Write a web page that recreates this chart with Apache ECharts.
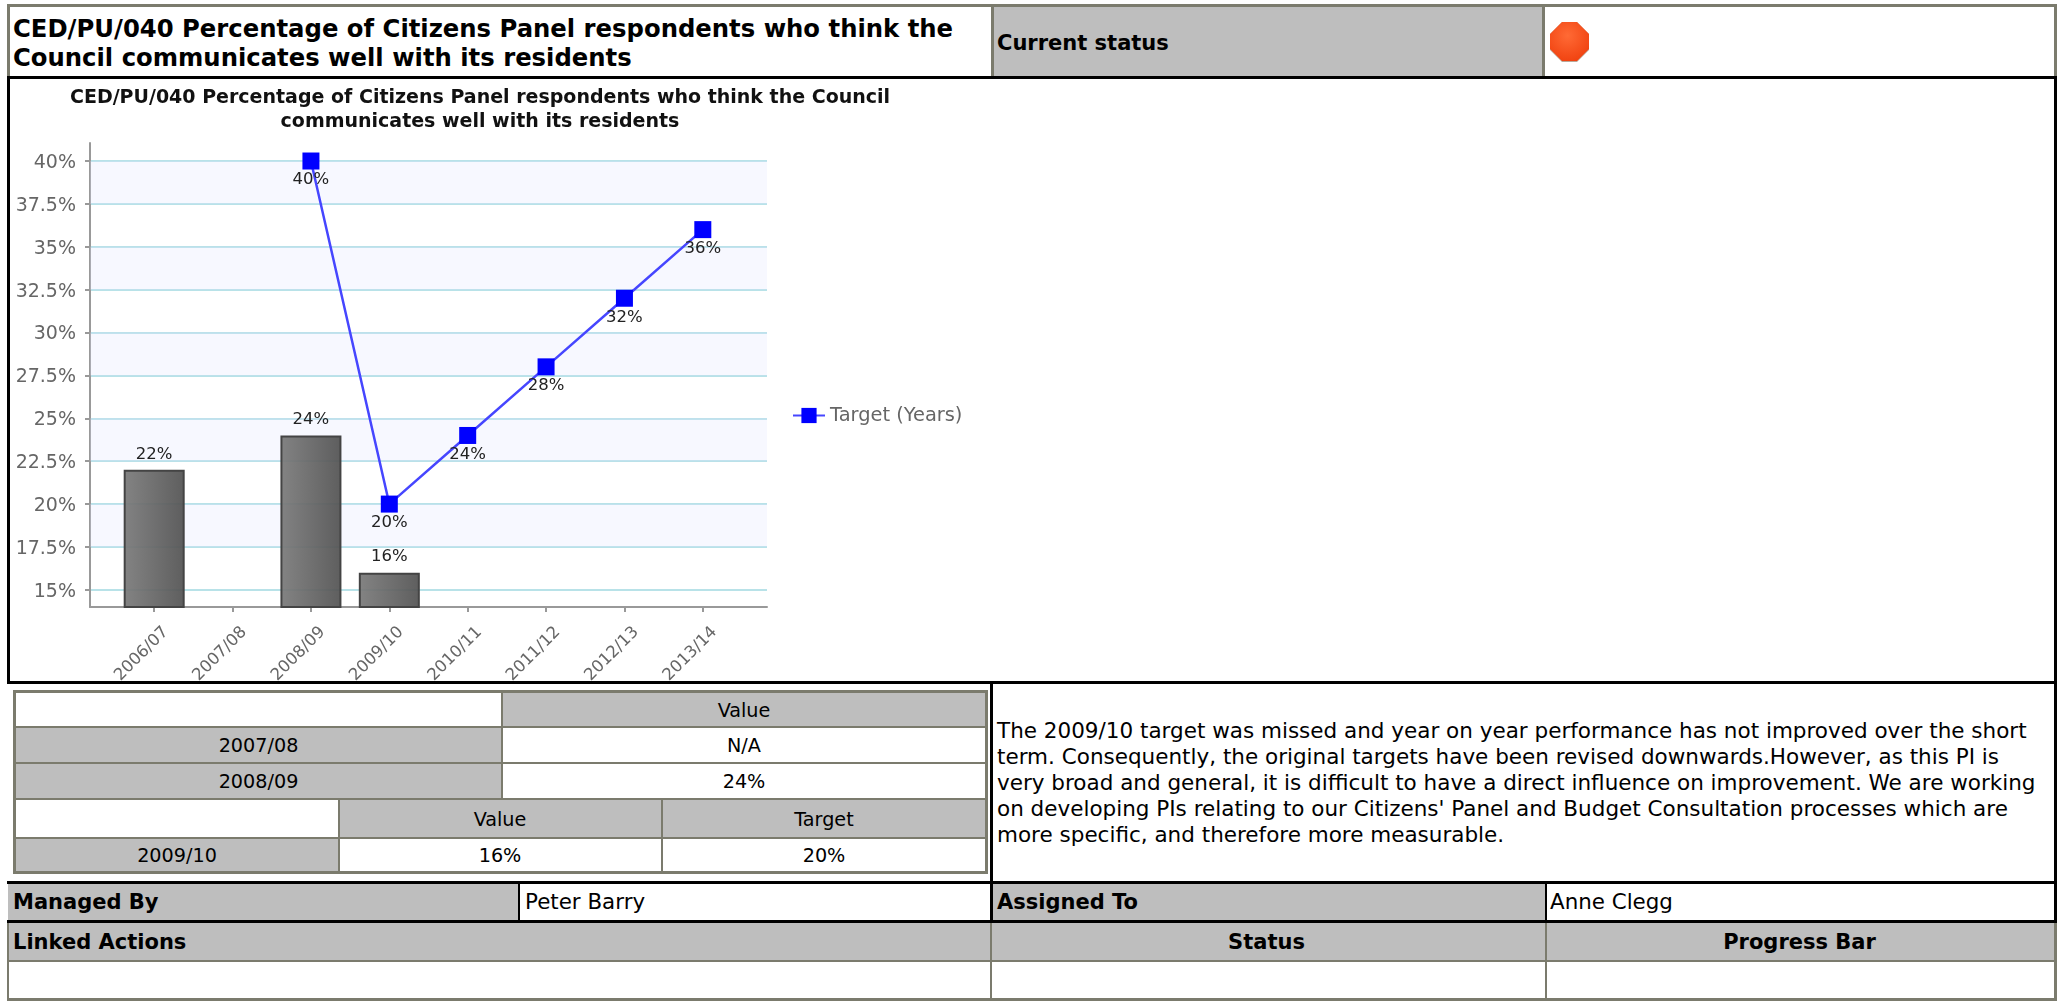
<!DOCTYPE html>
<html>
<head>
<meta charset="utf-8">
<title>CED/PU/040</title>
<script src="https://cdn.jsdelivr.net/npm/echarts@6/dist/echarts.min.js"></script>
<style>
html,body{margin:0;padding:0;background:#fff;overflow:hidden;}
body{width:2059px;height:1001px;position:relative;font-family:"DejaVu Sans",sans-serif;color:#000;}
.b{position:absolute;box-sizing:border-box;white-space:nowrap;}
.g{background:#bebebe;}
.k{background:#000;}
.l{background:#7b7b6d;}
.h{font-weight:bold;font-size:21px;padding-left:5px;}
.t{font-size:19.2px;text-align:center;padding-top:1px;}
.v{font-size:21.4px;padding-left:5px;}
</style>
</head>
<body>
<!-- top row -->
<div class="b l" style="left:7px;top:4px;width:2050px;height:3px"></div>
<div class="b l" style="left:7px;top:4px;width:3px;height:72px"></div>
<div class="b l" style="left:2054px;top:4px;width:3px;height:72px"></div>
<div class="b" style="left:13px;top:14px;font-weight:bold;font-size:24.3px;line-height:29px">CED/PU/040 Percentage of Citizens Panel respondents who think the<br>Council communicates well with its residents</div>
<div class="b g" style="left:991px;top:7px;width:554px;height:69px;border-left:3px solid #7b7b6d;border-right:3px solid #7b7b6d;font-weight:bold;font-size:21px;line-height:72px;padding-left:3px">Current status</div>
<svg class="b" style="left:1549px;top:21px" width="42" height="42" viewBox="0 0 42 42">
<defs><radialGradient id="st" cx="45%" cy="35%" r="70%"><stop offset="0" stop-color="#ff6a35"/><stop offset="1" stop-color="#f0410f"/></radialGradient></defs>
<polygon points="13,1 28,1 40,13 40,29 28,41 13,41 1,29 1,13" fill="#b9a89a"/>
<polygon points="13,1 28,1 40,13 40,28 28,40 13,40 1,28 1,13" fill="url(#st)"/>
</svg>
<div class="b k" style="left:7px;top:76px;width:2050px;height:3px"></div>

<!-- chart box -->
<div class="b k" style="left:7px;top:76px;width:3px;height:608px"></div>
<div class="b k" style="left:2054px;top:76px;width:3px;height:847px"></div>
<div id="main" class="b" style="left:10px;top:79px;width:1000px;height:602px"></div>
<div class="b k" style="left:7px;top:681px;width:2050px;height:3px"></div>

<!-- values table -->
<div class="b" style="left:13px;top:690px;width:975px;height:184px;border:3px solid #7b7b6d"></div>
<div class="b g t" style="left:501px;top:693px;width:484px;height:34px;line-height:34px;border-left:2px solid #7b7b6d">Value</div>
<div class="b l" style="left:16px;top:726px;width:969px;height:2px"></div>
<div class="b g t" style="left:16px;top:728px;width:485px;height:34px;line-height:34px">2007/08</div>
<div class="b t" style="left:503px;top:728px;width:482px;height:34px;line-height:34px">N/A</div>
<div class="b l" style="left:16px;top:762px;width:969px;height:2px"></div>
<div class="b g t" style="left:16px;top:764px;width:485px;height:34px;line-height:34px">2008/09</div>
<div class="b t" style="left:503px;top:764px;width:482px;height:34px;line-height:34px">24%</div>
<div class="b l" style="left:501px;top:693px;width:2px;height:105px"></div>
<div class="b l" style="left:16px;top:798px;width:969px;height:2px"></div>
<div class="b g t" style="left:339px;top:800px;width:322px;height:37px;line-height:37px">Value</div>
<div class="b g t" style="left:663px;top:800px;width:322px;height:37px;line-height:37px">Target</div>
<div class="b l" style="left:16px;top:837px;width:969px;height:2px"></div>
<div class="b g t" style="left:16px;top:839px;width:322px;height:32px;line-height:32px">2009/10</div>
<div class="b t" style="left:339px;top:839px;width:322px;height:32px;line-height:32px">16%</div>
<div class="b t" style="left:663px;top:839px;width:322px;height:32px;line-height:32px">20%</div>
<div class="b l" style="left:338px;top:800px;width:2px;height:71px"></div>
<div class="b l" style="left:661px;top:800px;width:2px;height:71px"></div>

<!-- comment -->
<div class="b k" style="left:990px;top:681px;width:3px;height:201px"></div>
<div class="b" style="left:997px;top:718px;font-size:21.5px;line-height:26px">The 2009/10 target was missed and year on year performance has not improved over the short<br>term. Consequently, the original targets have been revised downwards.However, as this PI is<br>very broad and general, it is difficult to have a direct influence on improvement. We are working<br>on developing PIs relating to our Citizens' Panel and Budget Consultation processes which are<br>more specific, and therefore more measurable.</div>

<!-- managed / assigned -->
<div class="b k" style="left:7px;top:881px;width:2050px;height:3px"></div>
<div class="b g h" style="left:8px;top:884px;width:510px;height:36px;line-height:36px">Managed By</div>
<div class="b k" style="left:518px;top:884px;width:2px;height:36px"></div>
<div class="b v" style="left:520px;top:884px;line-height:36px">Peter Barry</div>
<div class="b g h" style="left:992px;top:884px;width:553px;height:36px;line-height:36px">Assigned To</div>
<div class="b k" style="left:990px;top:884px;width:3px;height:36px"></div>
<div class="b k" style="left:1545px;top:884px;width:2px;height:36px"></div>
<div class="b v" style="left:1545px;top:884px;line-height:36px">Anne Clegg</div>
<div class="b k" style="left:7px;top:920px;width:2050px;height:3px"></div>

<!-- linked actions -->
<div class="b g h" style="left:8px;top:923px;width:2046px;height:37px;line-height:38px">Linked Actions</div>
<div class="b h" style="left:990px;top:923px;width:553px;height:37px;line-height:38px;text-align:center;padding:0">Status</div>
<div class="b h" style="left:1545px;top:923px;width:509px;height:37px;line-height:38px;text-align:center;padding:0">Progress Bar</div>
<div class="b l" style="left:7px;top:960px;width:2050px;height:2px"></div>
<div class="b l" style="left:7px;top:923px;width:2px;height:78px"></div>
<div class="b l" style="left:990px;top:923px;width:2px;height:78px"></div>
<div class="b l" style="left:1545px;top:923px;width:2px;height:78px"></div>
<div class="b l" style="left:2054px;top:923px;width:3px;height:78px"></div>
<div class="b l" style="left:7px;top:998px;width:2050px;height:3px"></div>

<script>
var categories=["2006/07","2007/08","2008/09","2009/10","2010/11","2011/12","2012/13","2013/14"];
var actualValues=[22,null,24,16,null,null,null,null];
var targetValues=[null,null,40,20,24,28,32,36];
var yTicks=[15,17.5,20,22.5,25,27.5,30,32.5,35,37.5,40];
var yBands=[[17.5,20],[22.5,25],[27.5,30],[32.5,35],[37.5,40]];
var chartTitle="CED/PU/040 Percentage of Citizens Panel respondents who think the Council\ncommunicates well with its residents";
var targetName="Target (Years)";

function e_chart(){
	var myChart=echarts.init(document.getElementById('main'));
	var font='"DejaVu Sans",sans-serif';
	var option={
		animation:false,
		title:{
			text:chartTitle,
			left:465,top:2,textAlign:'center',
			textStyle:{fontFamily:font,fontSize:19,fontWeight:'bold',color:'#111',lineHeight:24}
		},
		legend:{
			data:[targetName],
			left:777,top:322,
			itemWidth:32,itemHeight:19,itemGap:0,
			textStyle:{fontFamily:font,fontSize:19.4,color:'#666'}
		},
		// wide grid holds the y axis and gridlines, narrow one holds the categories
		grid:[
			{left:80,top:64,width:677,height:464,outerBoundsMode:'none'},
			{left:105,top:64,width:627,height:464,outerBoundsMode:'none'}
		],
		xAxis:[
			{gridIndex:0,type:'category',data:categories,
				axisLine:{lineStyle:{color:'#999',width:2}},axisTick:{show:false},axisLabel:{show:false}},
			{gridIndex:1,type:'category',data:categories,
				axisLine:{show:false},
				axisTick:{show:true,alignWithLabel:true,length:5,lineStyle:{color:'#999',width:2}},
				axisLabel:{rotate:45,interval:0,margin:11,verticalAlign:'top',lineHeight:33,fontFamily:font,fontSize:16.5,color:'#666'}}
		],
		yAxis:[
			{gridIndex:0,type:'value',min:14,max:41.05,
				axisLine:{show:true,lineStyle:{color:'#999',width:2}},
				axisTick:{show:true,length:5,customValues:yTicks,lineStyle:{color:'#999',width:2}},
				axisLabel:{customValues:yTicks,margin:14,verticalAlign:'top',lineHeight:4,fontFamily:font,fontSize:19,color:'#666',formatter:'{value}%'},
				splitLine:{show:true,lineStyle:{color:'#b8e2e8',width:2}}},
			{gridIndex:1,type:'value',min:14,max:41.05,show:false,splitLine:{show:false}}
		],
		series:[
			{
				name:'bands',type:'line',xAxisIndex:0,yAxisIndex:0,data:[],silent:true,
				markArea:{silent:true,itemStyle:{color:'rgba(225,228,255,0.25)'},
					data:yBands.map(function(b){return [{yAxis:b[0]},{yAxis:b[1]}];})}
			},
			{
				name:'Value',type:'bar',xAxisIndex:1,yAxisIndex:1,data:actualValues,barWidth:61,
				itemStyle:{
					color:new echarts.graphic.LinearGradient(0,0,1,0,[{offset:0,color:'rgba(122,122,122,0.93)'},{offset:1,color:'rgba(82,82,82,0.93)'}]),
					borderColor:'#444',borderWidth:2
				},
				label:{show:true,position:'top',distance:7,fontFamily:font,fontSize:16.5,color:'#222',formatter:'{c}%'}
			},
			{
				name:targetName,type:'line',xAxisIndex:1,yAxisIndex:1,data:targetValues,z:3,
				symbol:'rect',symbolSize:17,connectNulls:false,
				lineStyle:{color:'#4646ff',width:2.5},
				itemStyle:{color:'#0000ff'},
				label:{show:true,position:'bottom',distance:2,fontFamily:font,fontSize:16.5,color:'#222',formatter:'{c}%'}
			}
		]
	};
	myChart.setOption(option);
}
e_chart();
</script>
</body>
</html>
